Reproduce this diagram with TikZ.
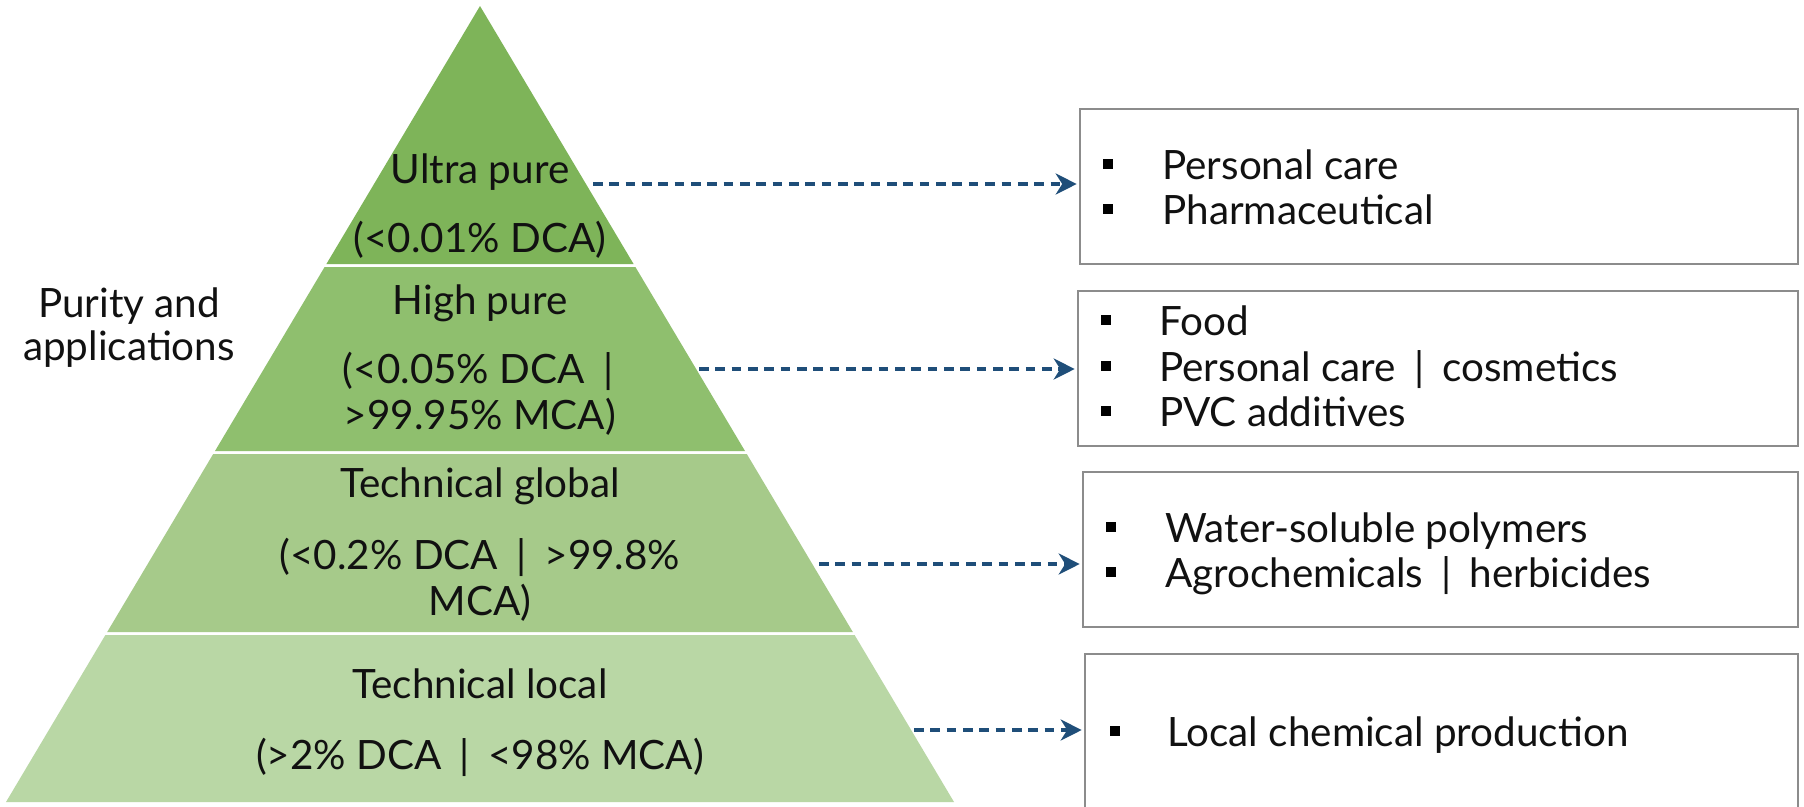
\documentclass[tikz,border=0pt]{standalone}
\usepackage{fontspec}
\setmainfont{Lato}
\usetikzlibrary{arrows.meta}
\definecolor{bandA}{HTML}{7EB459}
\definecolor{bandB}{HTML}{8FBF6E}
\definecolor{bandC}{HTML}{A6CA8A}
\definecolor{bandD}{HTML}{B9D7A5}
\definecolor{boxgray}{HTML}{8C8C8C}
\definecolor{arrowblue}{HTML}{1F4E79}
\definecolor{txt}{HTML}{111111}
\newcommand{\vbar}{\hspace{0.45em}|\hspace{0.45em}}
\begin{document}
\begin{tikzpicture}[x=0.02cm,y=-0.02cm,
  lbl/.style={anchor=base, inner sep=0pt, font=\fontsize{23}{27}\selectfont, text=txt},
  item/.style={anchor=base west, inner sep=0pt, font=\fontsize{23}{27}\selectfont, text=txt},
  appbox/.style={draw=boxgray, line width=1pt, inner sep=0pt, minimum height=3.1cm},
  bul/.style={fill=black, minimum size=0.19cm, inner sep=0pt},
  con/.style={draw=arrowblue, line width=1.9pt, dash pattern=on 5.5pt off 3.8pt,
    -{Stealth[length=0.42cm,width=0.42cm,inset=0.13cm]}, shorten >=0.05cm}]
\clip (0,0) rectangle (1804,806);
\fill[white] (0,0) rectangle (1804,806);
% pyramid bands
\fill[bandA] (480,6) -- (633.6,264) -- (326.4,264) -- cycle;
\fill[bandB] (324.6,267) -- (635.4,267) -- (745,451) -- (215,451) -- cycle;
\fill[bandC] (213.2,454) -- (746.8,454) -- (852.8,632) -- (107.2,632) -- cycle;
\fill[bandD] (105.4,635) -- (854.6,635) -- (954,802) -- (6,802) -- cycle;
% side label
\node[lbl] (pa) at (129,317) {Purity and};
\node[lbl] (pb) at (129,360) {applications};
% pyramid labels
\node[lbl] (u1) at (480,183) {Ultra pure};
\node[lbl] (u2) at (480,252) {(<0.01\% DCA)};
\node[lbl] (h1) at (480,314) {High pure};
\node[lbl] (h2) at (478,383) {(<0.05\% DCA\hspace{0.45em}|};
\node[lbl] (h3) at (480,429) {>99.95\% MCA)};
\node[lbl] (g1) at (480,497) {Technical global};
\node[lbl] (g2) at (480,569) {(<0.2\% DCA\vbar>99.8\%};
\node[lbl] (g3) at (480,615) {MCA)};
\node[lbl] (l1) at (480,698) {Technical local};
\node[lbl] (l2) at (480,769) {(>2\% DCA\vbar<98\% MCA)};
% boxes
\node[appbox, minimum width=14.36cm] (b1) at (1439,186.5) {};
\node[appbox, minimum width=14.40cm] (b2) at (1438,368.5) {};
\node[appbox, minimum width=14.30cm] (b3) at (1440.5,549.5) {};
\node[appbox, minimum width=14.26cm, minimum height=3.12cm] (b4) at (1441.5,732) {};
% box 1
\node[bul] (k11) at (1108,164) {};
\node[item] (t11) at (1162,179) {Personal care};
\node[bul] (k12) at (1108,209) {};
\node[item] (t12) at (1162,224) {Pharmaceutical};
% box 2
\node[bul] (k21) at (1106,320) {};
\node[item] (t21) at (1159,335) {Food};
\node[bul] (k22) at (1106,366) {};
\node[item] (t22) at (1159,381) {Personal care\vbar cosmetics};
\node[bul] (k23) at (1106,411) {};
\node[item] (t23) at (1159,426) {PVC additives};
% box 3
\node[bul] (k31) at (1111,527) {};
\node[item] (t31) at (1165,542) {Water-soluble polymers};
\node[bul] (k32) at (1111,572) {};
\node[item] (t32) at (1165,587) {Agrochemicals\vbar herbicides};
% box 4
\node[bul] (k41) at (1115,731) {};
\node[item] (t41) at (1167,746) {Local chemical production};
% connectors
\coordinate (s1) at (593,184);
\coordinate (s2) at (699,369);
\coordinate (s3) at (819,564);
\coordinate (s4) at (914,730);
\draw[con] (s1) -- (s1 -| b1.west);
\draw[con] (s2) -- (s2 -| b2.west);
\draw[con] (s3) -- (s3 -| b3.west);
\draw[con] (s4) -- (s4 -| b4.west);
\end{tikzpicture}
\end{document}
